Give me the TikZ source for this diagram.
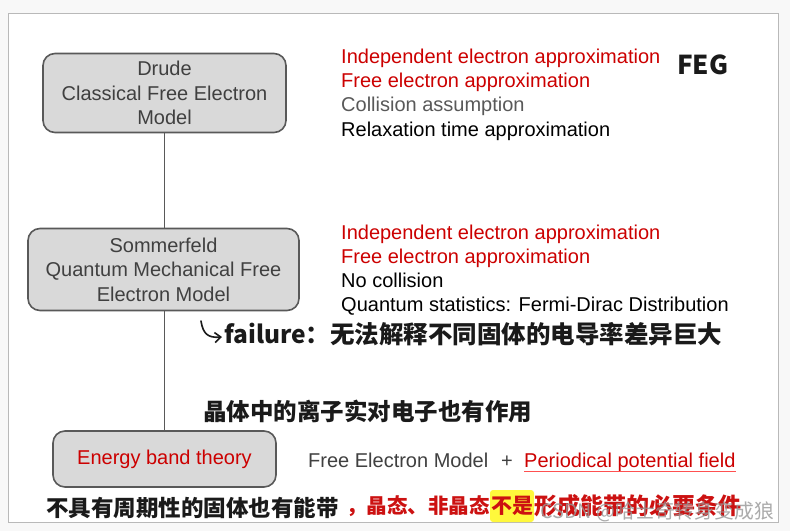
\documentclass[tikz,border=0pt]{standalone}
\usepackage{fontspec}
\setmainfont{Liberation Sans}
\newfontfamily\handfont{Noto Sans CJK SC}
\usetikzlibrary{positioning,arrows.meta}
\definecolor{pagebg}{RGB}{248,248,248}
\definecolor{pageframe}{RGB}{185,185,185}
\definecolor{boxfill}{RGB}{217,217,217}
\definecolor{boxline}{RGB}{89,89,89}
\definecolor{boxtext}{RGB}{64,64,64}
\definecolor{txtred}{RGB}{204,0,0}
\definecolor{txtgray}{RGB}{89,89,89}
\definecolor{ulred}{RGB}{255,80,80}
\definecolor{inkred}{RGB}{204,17,17}
\definecolor{inkblack}{RGB}{26,26,26}
\definecolor{marker}{RGB}{255,248,60}
\definecolor{wmark}{RGB}{150,150,150}
\tikzset{
  %% model block
  mblk/.style={rectangle,rounded corners=12pt,draw=boxline,line width=1.6pt,
    fill=boxfill,font=\fontsize{20}{24.5}\selectfont,align=center,
    text=boxtext,inner sep=0pt},
  %% one property line
  prop/.style={anchor=base west,font=\fontsize{20}{24}\selectfont,inner sep=0pt},
  %% vertical link between models
  link/.style={draw=boxline,line width=1pt},
  %% handwritten notes
  ink/.style={font=\handfont\bfseries\fontsize{#1}{#1}\selectfont,
    inner sep=0pt,text=inkblack},
  ink/.default=23,
  inkline/.style={draw=inkblack,line width=1.6pt,line cap=round},
}
\begin{document}
\begin{tikzpicture}[x=1pt,y=-1pt]
  \useasboundingbox[fill=pagebg] (0,0) rectangle (790,531);
  \draw[pageframe,fill=white,line width=1pt] (8,13) rectangle (778,522);

  %% models
  \node[mblk,minimum width=243pt,minimum height=79pt] (drude) at (164.5,93)
    {Drude\\Classical Free Electron\\Model};
  \node[mblk,minimum width=271pt,minimum height=82pt] (somm) at (163.5,269.5)
    {Sommerfeld\\Quantum Mechanical Free\\Electron Model};
  \node[mblk,minimum width=223pt,minimum height=56pt,text=txtred] (band)
    at (164.5,459) {Energy band theory};
  \draw[link] (drude.south) -- (drude.south |- somm.north);
  \draw[link] (drude.south |- somm.south) -- (drude.south |- band.north);

  %% assumptions
  \foreach \txt/\col [count=\i from 0] in {Independent electron approximation/txtred,
      Free electron approximation/txtred, Collision assumption/txtgray,
      Relaxation time approximation/black}
    \node[prop,text=\col] (drp\i) at (341,63.5+24.2*\i) {\txt};
  \foreach \txt/\col [count=\i from 0] in {Independent electron approximation/txtred,
      Free electron approximation/txtred, No collision/black,
      Quantum statistics: Fermi-Dirac Distribution/black}
    \node[prop,text=\col] (smp\i) at (341,239+24*\i) {\txt};

  \node[prop,text=boxtext] (fem) at (308,467.5) {Free Electron Model};
  \node[prop,text=boxtext] (plus) at (501,467.5) {+};
  \node[prop,text=txtred] (ppf) at (524,467.5) {Periodical potential field};
  \draw[ulred,line width=1.2pt] ([yshift=-4pt]ppf.base west) -- ([yshift=-4pt]ppf.base east);

  %% handwritten notes
  \node[ink=26,anchor=west] (feg) at (677,65) {FEG};
  \coordinate (hk1) at (201,321);
  \coordinate (hk2) at (222,337);
  \draw[inkline,-{Straight Barb[length=6pt,width=10pt]}] (hk1) .. controls (203,334) and (208,338) .. (hk2);
  \node[ink=24.5,anchor=west] (fail) at (224,334) {failure：无法解释不同固体的电导率差异巨大};
  \node[ink=23.5,anchor=west] (ion) at (203,411) {晶体中的离子实对电子也有作用};
  \node[ink=22.5,anchor=west] (nonper) at (46,508) {不具有周期性的固体也有能带};
  \node[ink=21,text=inkred,fill=marker,rounded corners=3pt,minimum width=44pt,
    minimum height=32pt] (hl) at (512,506) {不是};
  \node[ink=20.5,text=inkred,anchor=east] (cryst) at (hl.west) {，晶态、非晶态};
  \node[ink=23,text=inkred,anchor=west] (need) at (hl.east) {形成能带的必要条件};
  \node[font=\handfont\fontsize{19.8}{19.8}\selectfont,text=wmark,opacity=0.8,
    anchor=east,inner sep=0pt] (wm) at (774,512) {CSDN @哈士奇转身变成狼};
\end{tikzpicture}
\end{document}
